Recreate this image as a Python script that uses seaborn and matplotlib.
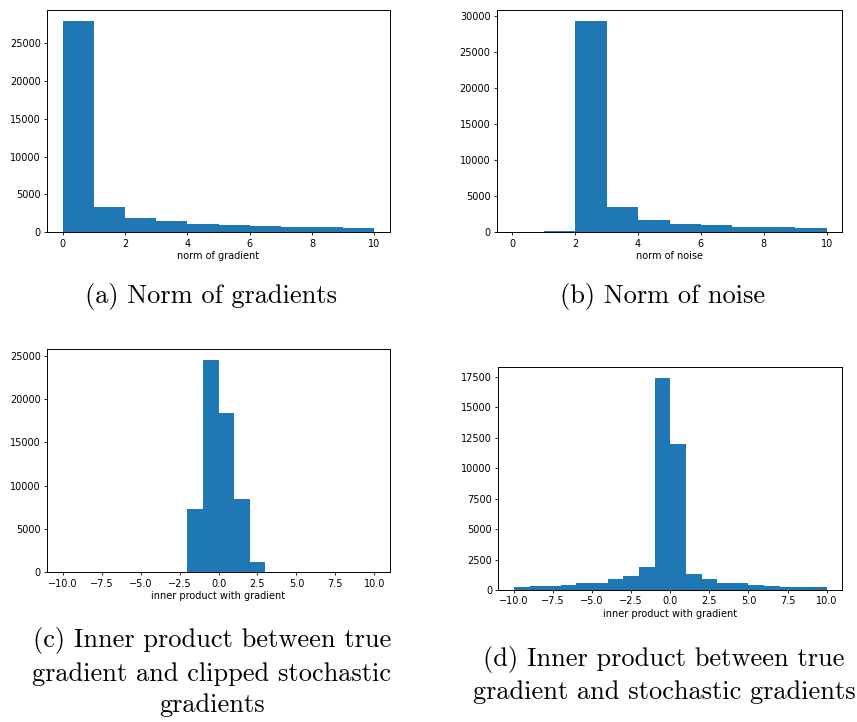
import matplotlib
matplotlib.use("Agg")
import matplotlib.pyplot as plt
import seaborn as sns
import numpy as np

# ---- data ----
norm_edges = [0, 1, 2, 3, 4, 5, 6, 7, 8, 9, 10]
grad_norm_counts = [28000, 3300, 1930, 1530, 1130, 960, 830, 700, 700, 530]
noise_norm_counts = [0, 150, 29400, 3470, 1750, 1190, 1010, 740, 740, 600]

inner_edges = [-10, -9, -8, -7, -6, -5, -4, -3, -2, -1, 0, 1, 2, 3, 4, 5, 6, 7, 8, 9, 10]
clipped_counts = [0, 0, 0, 0, 0, 0, 0, 0, 7250, 24500, 18400, 8400, 1200, 0, 0, 0, 0, 0, 0, 0]
stoch_counts = [250, 330, 330, 450, 535, 615, 875, 1120, 1860, 17400, 11950, 1300, 875, 615, 535, 440, 350, 250, 250, 250]

xlabels = ["norm of gradient", "norm of noise", "inner product with gradient", "inner product with gradient"]
captions = [
    "(a) Norm of gradients",
    "(b) Norm of noise",
    "(c) Inner product between true\ngradient and clipped stochastic\ngradients",
    "(d) Inner product between true\ngradient and stochastic gradients",
]

W, H = 857, 722
fig = plt.figure(figsize=(W / 100, H / 100), dpi=100)

def rect(l, r, t, b):
    return [l / W, 1 - b / H, (r - l) / W, (b - t) / H]

axes_px = [
    (47, 390, 10, 232.3),
    (496.7, 842.3, 10, 232.3),
    (47, 390, 349.3, 572.3),
    (498.3, 842.3, 367.3, 590),
]

datasets = [
    (norm_edges, grad_norm_counts),
    (norm_edges, noise_norm_counts),
    (inner_edges, clipped_counts),
    (inner_edges, stoch_counts),
]

color = "#1f77b4"
for (l, r, t, b), (edges, counts), xl in zip(axes_px, datasets, xlabels):
    ax = fig.add_axes(rect(l, r, t, b))
    edges_a = np.asarray(edges, dtype=float)
    centers = (edges_a[:-1] + edges_a[1:]) / 2
    sns.histplot(x=centers, weights=counts, bins=edges, ax=ax,
                 color=color, alpha=1.0, linewidth=0, element="bars")
    ax.set_xlabel(xl, fontsize=7, labelpad=2)
    ax.set_ylabel("")
    ax.tick_params(labelsize=7, length=2.5, width=0.6, pad=2)
    for s in ax.spines.values():
        s.set_linewidth(0.7)

cap_font = dict(fontfamily="cmr10", fontsize=19, ha="center", va="center",
                linespacing=1.4)
fig.text(211 / W, 1 - 297 / H, captions[0], **cap_font)
fig.text(663 / W, 1 - 297 / H, captions[1], **cap_font)
fig.text(212 / W, 1 - 672 / H, captions[2], **cap_font)
fig.text(664 / W, 1 - 675 / H, captions[3], **cap_font)

fig.savefig("out.png", dpi=100)
